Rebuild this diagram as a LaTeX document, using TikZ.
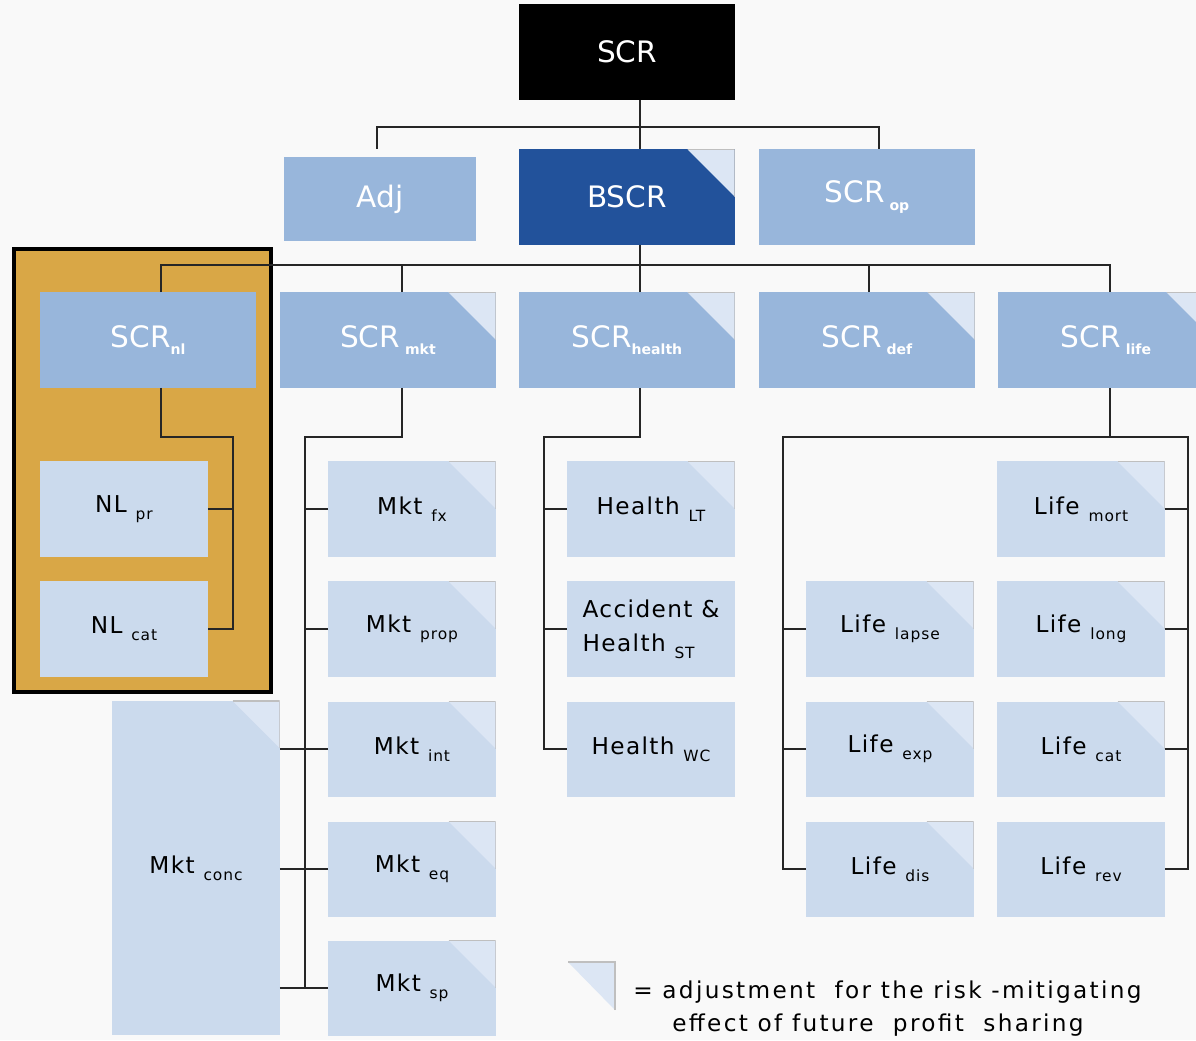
\documentclass[tikz,border=0pt]{standalone}
\usepackage{fontspec}
\setmainfont{DejaVu Sans}
\newfontfamily\widefont[LetterSpace=6]{DejaVu Sans}
\newfontfamily\legendfont[LetterSpace=10]{DejaVu Sans}
\usepackage{xcolor}
\usepackage{tikz}
\usetikzlibrary{positioning}
\definecolor{bg}{HTML}{F9F9F9}
\definecolor{topblue}{HTML}{22529B}
\definecolor{midblue}{HTML}{98B6DB}
\definecolor{lightblue}{HTML}{CBDAED}
\definecolor{foldfill}{HTML}{DCE6F4}
\definecolor{foldline}{HTML}{BFBFBF}
\definecolor{nlorange}{HTML}{D9A746}
% lowered index text
\newcommand\lo[1]{\raisebox{-5pt}{\fontsize{11}{12}\selectfont #1}}
\newcommand\lobf[1]{\raisebox{-5pt}{\fontsize{10}{12}\selectfont\bfseries #1}}

\begin{document}
\begin{tikzpicture}[x=0.025cm,y=-0.025cm,
  every node/.style={inner sep=0pt,align=center},
  big/.style={font=\fontsize{21}{25}\selectfont,text=white,
    minimum width=5.375cm,minimum height=2.375cm},
  small/.style={font=\widefont\fontsize{16.5}{24}\selectfont,fill=lightblue,text=black,
    minimum width=4.175cm,minimum height=2.375cm},
  fold/.style={path picture={
    \fill[foldfill] (path picture bounding box.north east) -- ++(-1.175cm,0)
      -- ++(1.175cm,-1.175cm) -- cycle;
    \draw[foldline,line width=0.8pt] ([xshift=-1.175cm]path picture bounding box.north east)
      -- (path picture bounding box.north east) -- ++(0,-1.175cm);}},
  conn/.style={draw=black!85,line width=1.2pt}]
\fill[bg] (0,0) rectangle (1196,1040);
\clip (0,0) rectangle (1196,1040);
% non-life frame
\draw[fill=nlorange,line width=2.8pt] (14,249) rectangle (271,692);
% level 0 and 1
\node[big,fill=black] (scr) at (627,52) {SCR};
\node[big,fill=midblue,minimum width=4.8cm,minimum height=2.1cm] (adj) at (380,199) {Adj};
\node[big,fill=topblue,fold] (bscr) at (627,197) {BSCR};
\node[big,fill=midblue] (scrop) at (867,197) {SCR\,\lobf{op}};
% level 2
\node[big,fill=midblue] (nl) at (148,340) {SCR\lobf{nl}};
\node[big,fill=midblue,fold] (mkt) at (388,340) {SCR\,\lobf{mkt}};
\node[big,fill=midblue,fold] (health) at (627,340) {SCR\lobf{health}};
\node[big,fill=midblue,fold] (def) at (867,340) {SCR\,\lobf{def}};
\node[big,fill=midblue,fold] (life) at (1106,340) {SCR\,\lobf{life}};
% non-life modules
\node[small] (nlpr) at (124,509) {NL \lo{pr}};
\node[small] (nlcat) at (124,629) {NL \lo{cat}};
% market modules
\node[small,fold] (mktfx) at (412,509) {Mkt \lo{fx}};
\node[small,fold] (mktprop) at (412,629) {Mkt \lo{prop}};
\node[small,fold] (mktint) at (412,749) {Mkt \lo{int}};
\node[small,fold] (mkteq) at (412,869) {Mkt \lo{eq}};
\node[small,fold] (mktsp) at (412,988) {Mkt \lo{sp}};
\node[small,fold,minimum height=8.35cm] (mktconc) at (196,868) {Mkt \lo{conc}};
% health modules
\node[small,fold] (hlt) at (651,509) {Health \lo{LT}};
\node[small,align=left] (hst) at (651,629) {Accident \&\\Health \lo{ST}};
\node[small] (hwc) at (651,749) {Health \lo{WC}};
% life modules
\node[small,fold] (lmort) at (1081,509) {Life \lo{mort}};
\node[small,fold] (llong) at (1081,629) {Life \lo{long}};
\node[small,fold] (lcat) at (1081,749) {Life \lo{cat}};
\node[small] (lrev) at (1081,869) {Life \lo{rev}};
\node[small,fold] (llapse) at (890,629) {Life \lo{lapse}};
\node[small,fold] (lexp) at (890,749) {Life \lo{exp}};
\node[small,fold] (ldis) at (890,869) {Life \lo{dis}};
% connectors
\coordinate (topbus) at (640,127);
\coordinate (midbus) at (640,265);
\draw[conn] (scr.south -| topbus) -- (bscr.north -| topbus);
\draw[conn] ([yshift=2mm]adj.north -| 377,0) |- (topbus) -| (scrop.north -| 879,0);
\draw[conn] (bscr.south -| midbus) -- (midbus);
\draw[conn] (nl.north -| 161,0) |- (midbus) -| (life.north -| 1110,0);
\foreach \n/\x in {mkt/402,health/640,def/869}
  \draw[conn] (\n.north -| \x,0) -- (\x,265);
\draw[conn] (nl.south -| 161,0) |- (233,437) |- (nlcat.east);
\draw[conn] (nlpr.east) -- (nlpr.east -| 233,0);
\draw[conn] (mkt.south -| 402,0) |- (305,437) |- (mktsp.west);
\foreach \n in {mktfx,mktprop,mktint,mkteq}
  \draw[conn] (\n.west) -- (\n.west -| 305,0);
\foreach \n in {mktint,mkteq,mktsp}
  \draw[conn] (mktconc.east |- \n.west) -- (\n.west -| 305,0);
\draw[conn] (health.south -| 640,0) |- (544,437) |- (hwc.west);
\foreach \n in {hlt,hst}
  \draw[conn] (\n.west) -- (\n.west -| 544,0);
\draw[conn] (life.south -| 1110,0) -- (1110,437);
\draw[conn] (ldis.west) -| (783,437) -| (1188,437 |- lrev.east) -- (lrev.east);
\foreach \n in {llapse,lexp}
  \draw[conn] (\n.west) -- (\n.west -| 783,0);
\foreach \n in {lmort,llong,lcat}
  \draw[conn] (\n.east) -- (\n.east -| 1188,0);
% legend
\fill[foldfill] (568,962) -- (615,962) -- (615,1010) -- cycle;
\draw[foldline,line width=0.8pt] (568,962) -- (615,962) -- (615,1010);
\node[font=\legendfont\fontsize{16.5}{20}\selectfont,anchor=base west] (legendA) at (633,998)
  {= adjustment \ for the risk -mitigating};
\node[font=\legendfont\fontsize{16.5}{20}\selectfont,anchor=base west] (legendB) at (672,1031)
  {effect of future \ profit \ sharing};
\end{tikzpicture}
\end{document}
